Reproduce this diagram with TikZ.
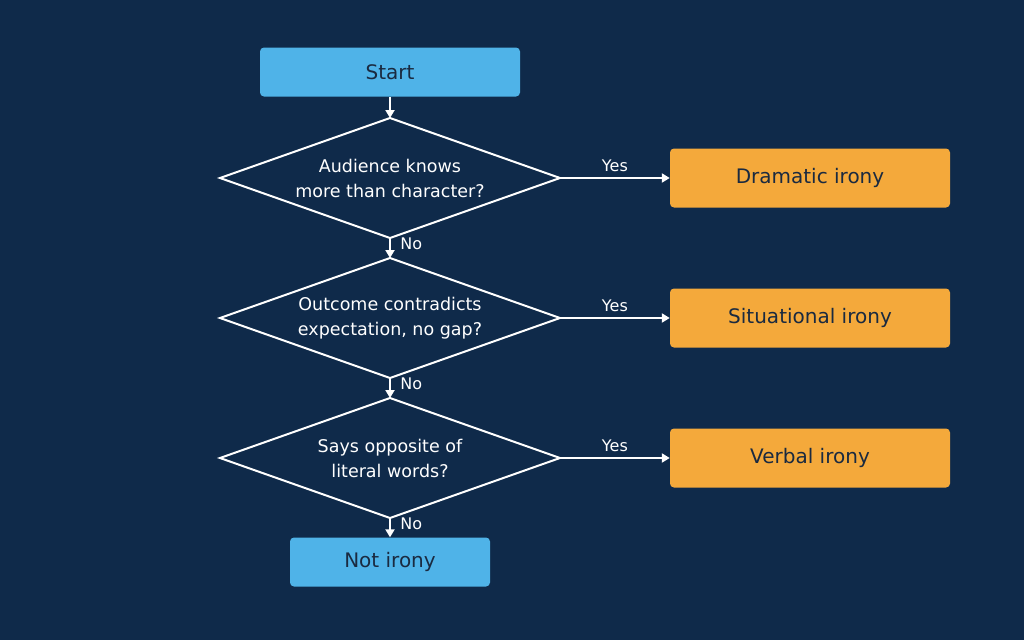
\documentclass[tikz,border=0pt]{standalone}
\usepackage{fontspec}
\setmainfont{DejaVu Sans}
\usetikzlibrary{shapes.geometric, arrows.meta, positioning}
\definecolor{bgnavy}{HTML}{0F2A4A}
\definecolor{termblue}{HTML}{4FB3E8}
\definecolor{outorange}{HTML}{F4A93B}
\definecolor{inkdark}{HTML}{1A2A40}
\tikzset{
  term/.style={rectangle, rounded corners=4pt, fill=termblue, text=inkdark, font=\fontsize{20}{24}\selectfont, minimum height=49pt},
  outcome/.style={rectangle, rounded corners=4pt, fill=outorange, text=inkdark, font=\fontsize{20}{24}\selectfont, minimum width=280pt, minimum height=59pt},
  question/.style={text=white, inner sep=0pt, align=center, font=\fontsize{17.5}{25}\selectfont},
  edge/.style={draw=white, line width=2pt},
  flow/.style={draw=white, line width=2pt, -{Triangle[length=8pt,width=9pt]}},
  tag/.style={text=white, font=\fontsize{16}{18}\selectfont}
}
\begin{document}
\begin{tikzpicture}[x=1pt, y=-1pt]
    \fill[bgnavy] (0,0) rectangle (1024,640);
    % Terminals
    \node[term, minimum width=260pt] (start) at (390,72) {Start};
    \node[term, minimum width=200pt] (none) at (390,562) {Not irony};
    % Questions
    \foreach \q/\y/\txt in {q1/178/{Audience knows\\more than character?},
                            q2/318/{Outcome contradicts\\expectation, no gap?},
                            q3/458/{Says opposite of\\literal words?}} {
      \coordinate (\q-n) at (390,\y-60);
      \coordinate (\q-s) at (390,\y+60);
      \coordinate (\q-e) at (560,\y);
      \coordinate (\q-w) at (220,\y);
      \draw[edge, line join=miter] (\q-n) -- (\q-e) -- (\q-s) -- (\q-w) -- cycle;
      \node[question] (\q) at (390,\y) {\txt};
    }
    % Outcomes
    \node[outcome] (dram) at (810,178) {Dramatic irony};
    \node[outcome] (situ) at (810,318) {Situational irony};
    \node[outcome] (verb) at (810,458) {Verbal irony};
    % Arrows
    \draw[flow] (start) -- (q1-n);
    \draw[flow] (q1-s) -- node[tag, right=6pt, pos=0.3] {No} (q2-n);
    \draw[flow] (q2-s) -- node[tag, right=6pt, pos=0.3] {No} (q3-n);
    \draw[flow] (q3-s) -- node[tag, right=6pt, pos=0.3] {No} (none);
    \draw[flow] (q1-e) -- node[tag, above=2pt, pos=0.5] {Yes} (dram);
    \draw[flow] (q2-e) -- node[tag, above=2pt, pos=0.5] {Yes} (situ);
    \draw[flow] (q3-e) -- node[tag, above=2pt, pos=0.5] {Yes} (verb);
\end{tikzpicture}
\end{document}
